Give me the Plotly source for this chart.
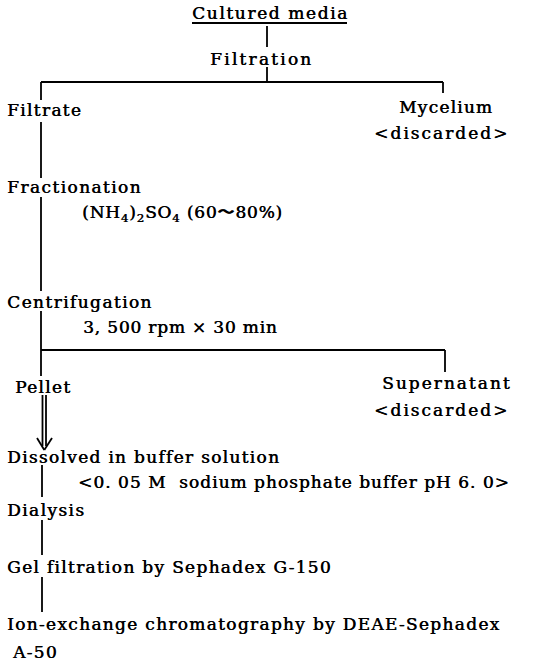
import plotly.graph_objects as go

W, H = 534, 665
FONT = "DejaVu Serif"

# ---- flowchart content (text) ----
labels = [
    "Cultured media",
    "Filtration",
    "Filtrate",
    "Mycelium",
    "&lt;discarded&gt;",
    "Fractionation",
    "(NH<sub>4</sub>)<sub>2</sub>SO<sub>4</sub> (60〜80%)",
    "Centrifugation",
    "3, 500 rpm × 30 min",
    "Pellet",
    "Supernatant",
    "&lt;discarded&gt;",
    "Dissolved in buffer solution",
    "&lt;0. 05 M  sodium phosphate buffer pH 6. 0&gt;",
    "Dialysis",
    "Gel filtration by Sephadex G-150",
    "Ion-exchange chromatography by DEAE-Sephadex",
    "A-50",
]

# ---- layout (pixel positions: left edge, vertical centre) ----
label_x = [192, 210, 7, 399, 374, 7, 82, 7, 83, 15, 382, 374, 7, 78, 7, 7, 7, 12]
label_y = [13, 59, 110, 107, 133, 187, 213, 302, 327, 387, 383, 410, 457, 482, 510, 567, 624, 652]
label_sp = [1.6, 2.2, 1.3, 1.2, 2.0, 1.4, 0.8, 1.4, 0.8, 1.3, 2.0, 2.0, 1.3, 1.0, 1.4, 1.3, 1.3, 1.3]

# connector segments (x0, y0, x1, y1)
segments = [
    (192, 23, 347, 23),     # underline
    (267, 26, 267, 47),
    (267, 67, 267, 82),
    (41, 82, 443, 82),
    (41, 82, 41, 100),
    (443, 82, 443, 93),
    (41, 122, 41, 178),
    (41, 197, 41, 291),
    (41, 311, 41, 376),
    (41, 350, 445, 350),
    (445, 350, 445, 372),
    (42.5, 395, 42.5, 446),
    (46, 395, 46, 446),
    (37, 438, 44.3, 450),
    (44.3, 450, 52, 438),
    (42, 465, 42, 497),
    (42, 520, 42, 555),
    (42, 577, 42, 612),
]

fig = go.Figure()

for (x0, y0, x1, y1) in segments:
    fig.add_shape(type="line", x0=x0, y0=y0, x1=x1, y1=y1, xref="x", yref="y",
                  line=dict(color="#000000", width=1.8))

for t, x, y, sp in zip(labels, label_x, label_y, label_sp):
    fig.add_annotation(
        x=x, y=y, xref="x", yref="y",
        text=f'<span style="letter-spacing:{sp}px">{t}</span>',
        showarrow=False, xanchor="left", yanchor="middle",
        borderpad=0, borderwidth=0,
        font=dict(family=FONT, size=17, color="#000000",
                  shadow="0.5px 0px 0px #000000"),
    )

fig.update_layout(
    width=W, height=H,
    margin=dict(l=0, r=0, t=0, b=0),
    paper_bgcolor="white", plot_bgcolor="white",
    showlegend=False,
    xaxis=dict(range=[0, W], visible=False, fixedrange=True),
    yaxis=dict(range=[H, 0], visible=False, fixedrange=True),
)

fig.write_html("out.html",
               post_script="document.body.style.margin='0';document.body.style.overflow='hidden';",
               config={"displayModeBar": False})
